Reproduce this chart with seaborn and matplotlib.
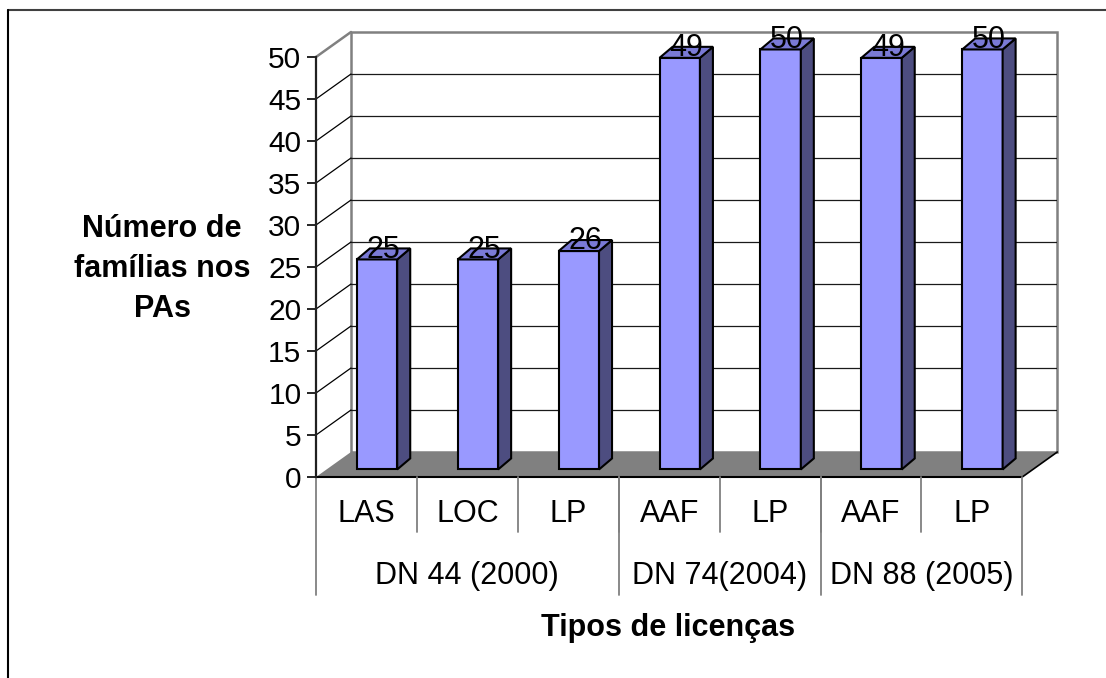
# 3D-style column chart: number of families per licence type
import matplotlib
matplotlib.use('Agg')
import matplotlib.pyplot as plt
from matplotlib.patches import Polygon
import pandas as pd
import seaborn as sns

# data
licencas = ["LAS", "LOC", "LP", "AAF", "LP", "AAF", "LP"]
familias = [25, 25, 26, 49, 50, 49, 50]
grupos = ["DN 44 (2000)", "DN 74(2004)", "DN 88 (2005)"]
grupo_tam = [3, 2, 2]
y_ticks = list(range(0, 55, 5))

df = pd.DataFrame({
    'chave': [f"{i}-{l}" for i, l in enumerate(licencas)],
    'licenca': licencas,
    'familias': familias,
})

sns.set_style('white')
plt.rcParams['font.family'] = ['Liberation Sans', 'DejaVu Sans']
plt.rcParams['text.color'] = 'black'
plt.rcParams['ytick.color'] = 'black'
plt.rcParams['ytick.labelcolor'] = 'black'

W, H = 1106, 678
fig = plt.figure(figsize=(W / 100, H / 100), dpi=100)

# pixel geometry of the plot box
px_unit_y = 8.4          # pixels per family
x0_px, y0_px = 316, 477  # front-left corner of floor
cat_px = 100.9           # pixels per category
wall_dx, wall_dy = 35 / cat_px, 25 / px_unit_y
n = len(licencas)
y_top = max(y_ticks) + wall_dy
x_right = n - 0.5 + wall_dx
ax_w = (x_right + 0.5) * cat_px
ax_h = y_top * px_unit_y
ax = fig.add_axes([x0_px / W, (H - y0_px) / H, ax_w / W, ax_h / H])

# bars first (seaborn), reshaped into 3D boxes below
bar_w = 0.40
sns.barplot(data=df, x='chave', y='familias', color='#9999FF', width=bar_w, saturation=1,
            edgecolor='black', linewidth=1.5, ax=ax, zorder=3)
bars = list(ax.containers[0])

# floor
xl, xr = -0.5, n - 0.5
ax.add_patch(Polygon([(xl, 0), (xr, 0), (xr + wall_dx, wall_dy), (xl + wall_dx, wall_dy)],
                     closed=True, fc='#808080', ec='none', zorder=1, clip_on=False))
# back wall
ax.add_patch(Polygon([(xl + wall_dx, wall_dy), (xr + wall_dx, wall_dy),
                      (xr + wall_dx, max(y_ticks) + wall_dy), (xl + wall_dx, max(y_ticks) + wall_dy)],
                     closed=True, fc='white', ec='#808080', lw=1.8, zorder=1, clip_on=False))
# grid on back wall and left wall
for v in y_ticks[1:-1]:
    ax.plot([xl + wall_dx, xr + wall_dx], [v + wall_dy, v + wall_dy], color='#1a1a1a', lw=0.9, zorder=1.5)
    ax.plot([xl, xl + wall_dx], [v, v + wall_dy], color='black', lw=0.9, zorder=1.5, clip_on=False)
ax.plot([xl, xl + wall_dx], [max(y_ticks), max(y_ticks) + wall_dy], color='#808080', lw=1.8,
        zorder=1.5, clip_on=False)
# floor front edge and right diagonal
ax.plot([xl, xr], [0, 0], color='black', lw=1.5, zorder=2, clip_on=False)
ax.plot([xr, xr + wall_dx], [0, wall_dy], color='black', lw=1.2, zorder=2, clip_on=False)

shift_x, shift_y = 0.105, 0.9
bdx, bdy = 13 / cat_px, 11 / px_unit_y
for p, val in zip(bars, familias):
    p.set_x(p.get_x() + shift_x)
    p.set_y(shift_y)
    p.set_clip_on(False)
    x_a = p.get_x()
    x_b = x_a + p.get_width()
    top = shift_y + p.get_height()
    ax.add_patch(Polygon([(x_b, shift_y), (x_b + bdx, shift_y + bdy), (x_b + bdx, top + bdy), (x_b, top)],
                         closed=True, fc='#4D4D80', ec='black', lw=1.5, zorder=3, clip_on=False))
    ax.add_patch(Polygon([(x_a, top), (x_b, top), (x_b + bdx, top + bdy), (x_a + bdx, top + bdy)],
                         closed=True, fc='#7A7AD6', ec='black', lw=1.5, zorder=3, clip_on=False))
    ax.text((x_a + x_b + bdx) / 2, top + 0.2, f"{val}", ha='center', va='baseline',
            fontsize=22, zorder=5)

ax.set_xlim(xl, x_right)
ax.set_ylim(0, y_top)
ax.set_yticks(y_ticks)
ax.set_yticklabels([str(t) for t in y_ticks], fontsize=21.5)
ax.tick_params(axis='y', direction='out', length=6.5, width=1.2, pad=4, left=True, colors='black')
ax.set_xticks([])
ax.set_xlabel('')
ax.set_ylabel('')
for s in ['top', 'right', 'bottom']:
    ax.spines[s].set_visible(False)
ax.spines['left'].set_bounds(0, max(y_ticks))
ax.spines['left'].set_color('#202020')
ax.spines['left'].set_linewidth(1.6)
ax.spines['left'].set_zorder(2)

# two-level category axis
tr = ax.get_xaxis_transform()
def frac(px):
    return -px / ax_h

for i, lab in enumerate(licencas):
    ax.text(i, frac(45), lab, transform=tr, ha='center', va='baseline', fontsize=22)
    if i > 0:
        ax.plot([i - 0.5, i - 0.5], [0, frac(55)], transform=tr, color='#808080', lw=1.3, clip_on=False)
start = 0
for g, sz in zip(grupos, grupo_tam):
    ax.text(start - 0.5 + sz / 2, frac(107), g, transform=tr, ha='center', va='baseline', fontsize=22)
    start += sz
edges = [-0.5]
for sz in grupo_tam:
    edges.append(edges[-1] + sz)
for e in edges:
    ax.plot([e, e], [0, frac(118)], transform=tr, color='#808080', lw=1.3, clip_on=False)

# axis titles
fig.text(668 / W, 1 - 636 / H, 'Tipos de licenças', ha='center', va='baseline',
         fontsize=22, fontweight='bold')
for ln, yb in zip(['Número de', 'famílias nos', 'PAs'], [237, 277, 317]):
    fig.text(162 / W, 1 - yb / H, ln, ha='center', va='baseline', fontsize=22, fontweight='bold')

# chart frame (top and left edges visible)
fig.add_artist(plt.Line2D([8 / W, 1], [1 - 10 / H, 1 - 10 / H], color='#404040', lw=1.5))
fig.add_artist(plt.Line2D([8 / W, 8 / W], [0, 1 - 10 / H], color='black', lw=1.5))

fig.savefig('out.png', dpi=100)
plt.close(fig)
